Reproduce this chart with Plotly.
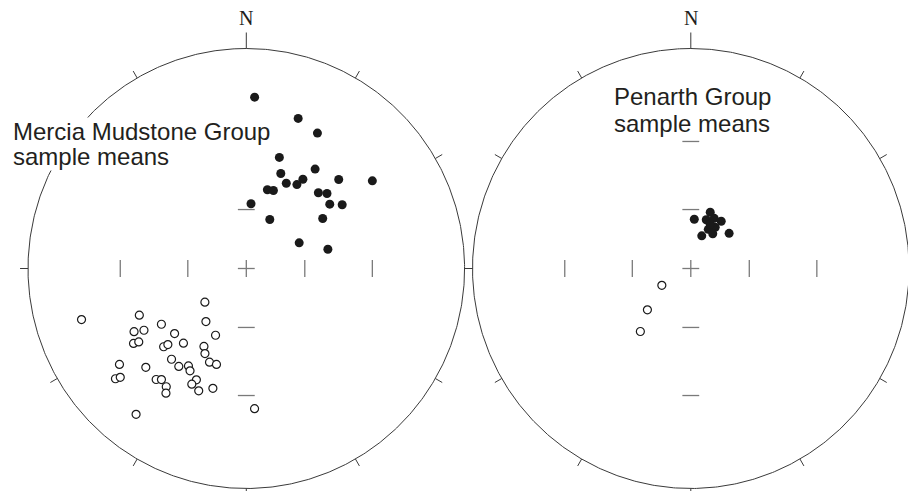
import numpy as np
import plotly.graph_objects as go

# Sample-mean directions: declination / inclination in degrees
# (negative inclination = upper hemisphere, drawn as open circles)
mercia_normal_dec = [2.8, 19.2, 27.9, 16.7, 20.1, 34.9, 25.3, 32.6, 31.3, 15.1, 19.3,
                     46.3, 55.4, 43.8, 47.3, 4.2, 52.6, 56.6, 25.8, 57.0, 64.3, 76.8]
mercia_normal_inc = [14.1, 18.3, 20.3, 34.4, 40.6, 32.3, 43.6, 38.6, 41.9, 49.3, 48.8,
                     29.3, 19.9, 39.0, 36.6, 57.1, 38.6, 34.5, 62.2, 44.7, 59.9, 48.0]

mercia_reversed_dec = [252.9, 246.6, 240.8, 239.1, 236.9, 236.6, 235.9, 226.8, 226.1,
                       233.1, 225.7, 230.1, 229.4, 219.3, 217.6, 214.3, 213.0, 217.3,
                       231.1, 217.5, 228.0, 204.9, 220.3, 208.7, 206.1, 219.7, 214.8,
                       210.9, 209.0, 201.6, 197.4, 204.3, 205.4, 201.4, 195.7, 176.6]
mercia_reversed_inc = [-13.4, -33.8, -29.0, -32.7, -40.2, -26.5, -28.5, -35.1, -37.0,
                       -18.0, -24.5, -14.0, -15.5, -23.8, -25.0, -23.9, -21.9, -10.4,
                       -62.6, -56.2, -42.3, -53.0, -42.0, -46.0, -43.4, -33.6, -33.1,
                       -35.4, -34.0, -40.8, -40.9, -31.9, -29.6, -28.3, -31.0, -24.9]

penarth_normal_dec = [4.1, 19.2, 17.7, 25.2, 33.0, 30.9, 24.2, 18.7, 32.5, 47.7, 23.9]
penarth_normal_inc = [64.7, 59.7, 63.8, 61.7, 61.3, 65.4, 67.9, 72.2, 68.8, 63.3, 65.2]

penarth_reversed_dec = [240.1, 226.6, 218.9]
penarth_reversed_inc = [-72.6, -59.4, -49.6]

# Graticule: rim ticks every 30 degrees, inner ticks at these inclinations
rim_tick_step = 30
inner_tick_incs = [60, 30]

W, H = 908, 491
RX, RY = 218.3, 220.0          # primitive radius in px (x, y)
CY = 268.5                      # net centre height in px from top
CX_LEFT, CX_RIGHT = 246.3, 690.8
DOM_LEFT, DOM_RIGHT = [0, 0.56], [0.44, 1.0]

RIM_COL = "#3a3a3a"
TICK_COL = "#7a7a7a"
TEXT_COL = "#231f20"


def project(dec, inc):
    """Stereographic (Wulff) projection onto the unit primitive circle."""
    d = np.radians(np.asarray(dec, float))
    i = np.radians(np.abs(np.asarray(inc, float)))
    r = np.tan((np.pi / 2 - i) / 2)
    return r * np.sin(d), r * np.cos(d)


def net_frame():
    """Primitive circle, rim ticks and inner axis ticks of one net."""
    t = np.radians(np.linspace(0, 360, 721))
    circ_x, circ_y = np.sin(t), np.cos(t)

    sx, sy = [], []
    for a in range(0, 360, rim_tick_step):
        ar = np.radians(a)
        ln = 16 / RY if a == 0 else 8 / RY
        sx += [np.sin(ar), (1 + ln) * np.sin(ar), None]
        sy += [np.cos(ar), (1 + ln) * np.cos(ar), None]

    h = 8.5 / RY
    ix, iy = [], []
    radii = [0.0] + [float(np.tan(np.radians(90 - v) / 2)) for v in inner_tick_incs]
    for rr in radii:
        for s in ([1] if rr == 0 else [1, -1]):
            # vertical tick on the E-W axis
            ix += [s * rr, s * rr, None]
            iy += [-h, h, None]
            # horizontal tick on the N-S axis
            ix += [-h, h, None]
            iy += [s * rr, s * rr, None]
    return (circ_x, circ_y), (sx, sy), (ix, iy)


fig = go.Figure()


def add_net(xa, ya, normal, reversed_):
    (cx, cy), (sx, sy), (ix, iy) = net_frame()
    common = dict(xaxis=xa, yaxis=ya, showlegend=False, hoverinfo="skip")
    fig.add_trace(go.Scatter(x=cx, y=cy, mode="lines",
                             line=dict(color=RIM_COL, width=1), **common))
    fig.add_trace(go.Scatter(x=sx, y=sy, mode="lines",
                             line=dict(color=RIM_COL, width=1), **common))
    fig.add_trace(go.Scatter(x=ix, y=iy, mode="lines",
                             line=dict(color=TICK_COL, width=1.3), **common))
    nx, ny = project(*normal)
    fig.add_trace(go.Scatter(x=nx, y=ny, mode="markers",
                             marker=dict(size=9, color="#1a1a1a", line=dict(width=0)),
                             xaxis=xa, yaxis=ya, showlegend=False))
    rx, ry = project(*reversed_)
    fig.add_trace(go.Scatter(x=rx, y=ry, mode="markers",
                             marker=dict(size=8, color="white",
                                         line=dict(color="#1a1a1a", width=1.2)),
                             xaxis=xa, yaxis=ya, showlegend=False))


add_net("x", "y", (mercia_normal_dec, mercia_normal_inc),
        (mercia_reversed_dec, mercia_reversed_inc))
add_net("x2", "y2", (penarth_normal_dec, penarth_normal_inc),
        (penarth_reversed_dec, penarth_reversed_inc))


def xrange_for(domain, cx):
    return [(domain[0] * W - cx) / RX, (domain[1] * W - cx) / RX]


yr = [-(H - CY) / RY, CY / RY]
hidden = dict(visible=False, showgrid=False, zeroline=False, fixedrange=True)

fig.update_layout(
    width=W, height=H, autosize=False,
    margin=dict(l=0, r=0, t=0, b=0),
    paper_bgcolor="white", plot_bgcolor="rgba(0,0,0,0)",
    xaxis=dict(domain=DOM_LEFT, range=xrange_for(DOM_LEFT, CX_LEFT), **hidden),
    yaxis=dict(domain=[0, 1], range=yr, **hidden),
    xaxis2=dict(domain=DOM_RIGHT, range=xrange_for(DOM_RIGHT, CX_RIGHT), **hidden),
    yaxis2=dict(domain=[0, 1], range=yr, anchor="x2", **hidden),
)

sans = dict(family="Liberation Sans, Arial, sans-serif", size=24, color=TEXT_COL)
serif = dict(family="Liberation Serif, Times New Roman, serif", size=20, color=TEXT_COL)

annotations = []
for xr, yref in (("x", "y"), ("x2", "y2")):
    annotations.append(dict(x=0, y=(CY - 31) / RY, xref=xr, yref=yref, text="N",
                            showarrow=False, xanchor="center", yanchor="bottom",
                            font=serif))

# Mercia Mudstone Group label (white box masks the frame behind it)
mx = (11.7 - CX_LEFT) / RX
for txt, ypx in (("Mercia Mudstone Group", 131.0), ("sample means", 156.7)):
    annotations.append(dict(x=mx, y=(CY - ypx) / RY, xref="x", yref="y", text=txt,
                            showarrow=False, xanchor="left", yanchor="middle",
                            bgcolor="white", borderpad=0, font=sans))

px_ = (612.7 - CX_RIGHT) / RX
for txt, ypx in (("Penarth Group", 96.7), ("sample means", 123.4)):
    annotations.append(dict(x=px_, y=(CY - ypx) / RY, xref="x2", yref="y2", text=txt,
                            showarrow=False, xanchor="left", yanchor="middle",
                            borderpad=0, font=sans))

fig.update_layout(annotations=annotations)

fig.write_html("out.html")
